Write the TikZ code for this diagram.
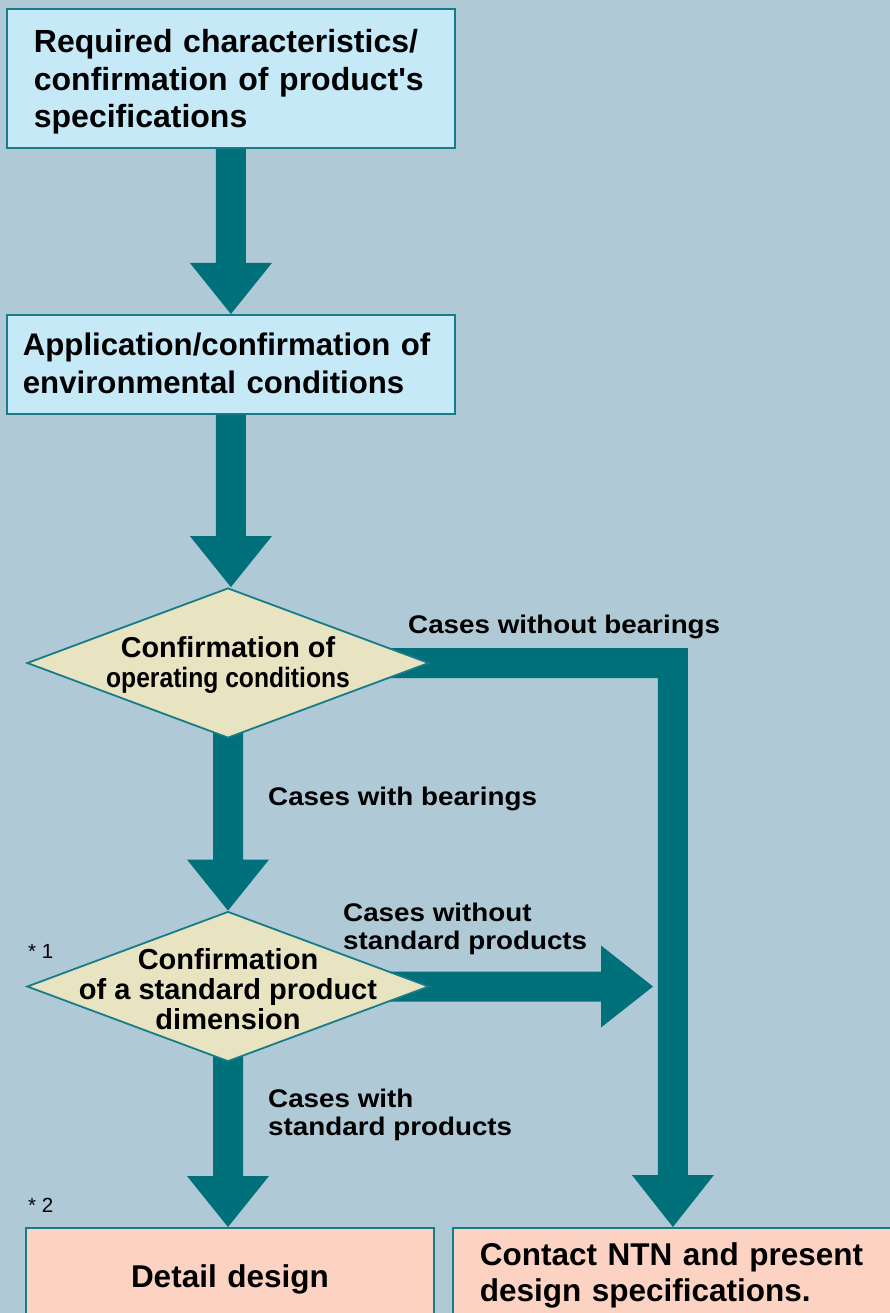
\documentclass[tikz,border=0pt]{standalone}
\usepackage{fontspec}
\setmainfont{Liberation Sans}[Ligatures=TeXOff]
\newfontfamily\condfont{Liberation Sans}[FakeStretch=0.88,Ligatures=TeXOff]
\newfontfamily\widefont{Liberation Sans}[FakeStretch=1.09,Ligatures=TeXOff]
\usetikzlibrary{shapes.geometric,calc}
\definecolor{bgc}{HTML}{AFCAD6}
\definecolor{boxblue}{HTML}{C6E9F8}
\definecolor{bordc}{HTML}{177C87}
\definecolor{arrc}{HTML}{00707B}
\definecolor{diac}{HTML}{E8E3C1}
\definecolor{pinkc}{HTML}{FCD3C2}
\pgfdeclarelayer{bg}
\pgfsetlayers{bg,main}
\tikzset{
  stepbox/.style={draw=bordc, line width=1.8pt, fill=boxblue, anchor=north west,
    inner ysep=0pt, align=left, font=\bfseries\fontsize{32}{37.5}\selectfont},
  decision/.style={diamond, draw=bordc, line width=1.8pt, fill=diac,
    minimum width=402pt, minimum height=150pt, inner sep=0pt},
  dtext/.style={inner sep=0pt, align=center},
  lbl/.style={inner sep=0pt, font=\widefont\bfseries\fontsize{25.5}{28}\selectfont},
  note/.style={inner sep=0pt, anchor=base west, font=\fontsize{20.5}{24}\selectfont}
}
\newcommand\blockdown[2]{%
  \fill[arrc] let \p1=(#1), \p2=(#2) in
    (\x1-15pt,\y1) -- (\x1+15pt,\y1) -- (\x1+15pt,\y2+51pt) -- (\x1+41pt,\y2+51pt)
    -- (\x1,\y2) -- (\x1-41pt,\y2+51pt) -- (\x1-15pt,\y2+51pt) -- cycle;}
\begin{document}
\begin{tikzpicture}[x=1pt,y=-1pt]
\useasboundingbox (0,0) rectangle (890,1313);
\clip (0,0) rectangle (890,1313);
\begin{pgfonlayer}{bg}
\fill[bgc] (0,0) rectangle (890,1313);
\end{pgfonlayer}

% process boxes
\node[stepbox, inner xsep=27pt, text width=394pt, text height=44pt, text depth=95pt]
  (b1) at (6,8) {Required characteristics/\\confirmation of product's\\specifications};
\node[stepbox, font=\bfseries\fontsize{31.2}{38}\selectfont, inner xsep=16pt, text width=416pt,
  text height=41pt, text depth=58pt]
  (b2) at (6,314) {Application/confirmation of\\environmental conditions};

% decisions
\node[decision] (d1) at (228,663) {};
\node[dtext, font=\bfseries\fontsize{28}{30}\selectfont, text height=55pt, text depth=7pt]
  (d1t) at (d1.center) {{\fontsize{28.8}{30}\selectfont Confirmation of}\\{\condfont\bfseries operating conditions}};
\node[decision] (d2) at (228,986.5) {};
\node[dtext, font=\bfseries\fontsize{29}{30}\selectfont, text height=85pt, text depth=0pt]
  (d2t) at (d2.center) {Confirmation\\of a standard product\\dimension};

% result boxes
\node[stepbox, fill=pinkc, align=center, font=\bfseries\fontsize{31.5}{36}\selectfont,
  inner xsep=10pt, text width=388pt, text height=60pt, text depth=40pt]
  (b3) at (25,1227) {Detail design};
\node[stepbox, fill=pinkc, font=\bfseries\fontsize{31.5}{36}\selectfont,
  inner xsep=27pt, text width=386pt, text height=38pt, text depth=62pt]
  (b4) at (452,1227) {Contact NTN and present\\design specifications.};

\coordinate (tipR) at (653,987);

% block arrows (behind the shapes)
\begin{pgfonlayer}{bg}
\blockdown{b1.south}{b2.north}
\blockdown{b2.south}{d1.north}
\blockdown{d1.center}{d2.north}
\blockdown{d2.center}{b3.north}
\fill[arrc] let \p1=(d1.center), \p2=(b4.north) in
  (\x1,\y1+15pt) -- (\x2+15pt,\y1+15pt) -- (\x2+15pt,\y2+52pt) -- (\x2+41pt,\y2+52pt)
  -- (\x2,\y2) -- (\x2-41pt,\y2+52pt) -- (\x2-15pt,\y2+52pt) -- (\x2-15pt,\y1-15pt)
  -- (\x1,\y1-15pt) -- cycle;
\fill[arrc] let \p1=(d2.center), \p2=(tipR) in
  (\x1,\y1+15pt) -- (\x2-52pt,\y1+15pt) -- (\x2-52pt,\y1+41pt) -- (\x2,\y1)
  -- (\x2-52pt,\y1-41pt) -- (\x2-52pt,\y1-15pt) -- (\x1,\y1-15pt) -- cycle;
\end{pgfonlayer}

% branch labels
\node[lbl, anchor=base west] (l1) at (408,633) {Cases without bearings};
\node[lbl, anchor=base west] (l2) at (268,805) {Cases with bearings};
\node[lbl, anchor=north west, align=left, text height=48pt, text depth=7pt]
  (l3) at (343,901) {Cases without\\standard products};
\node[lbl, anchor=north west, align=left, text height=48pt, text depth=7pt]
  (l4) at (268,1087) {Cases with\\standard products};

% notes
\node[note] (n1) at (28,958) {* 1};
\node[note] (n2) at (28,1212) {* 2};
\end{tikzpicture}
\end{document}
